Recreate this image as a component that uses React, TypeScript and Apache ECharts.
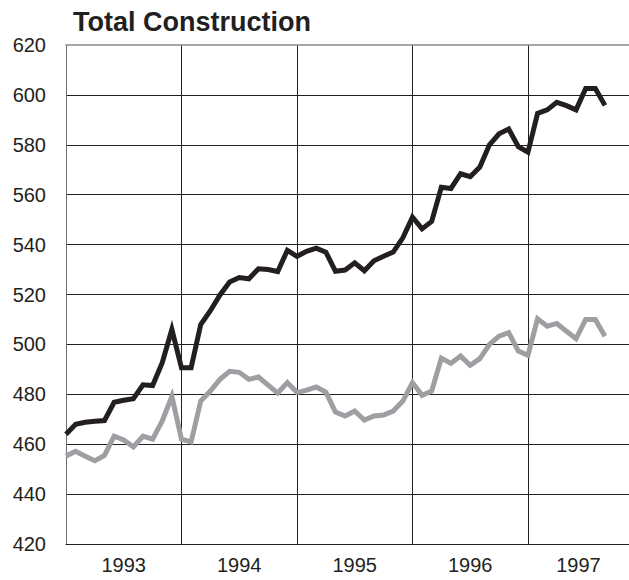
import React, { useEffect, useRef } from 'react';
import * as echarts from 'echarts';

const TITLE = 'Total Construction';
const YEAR_LABELS = ['1993', '1994', '1995', '1996', '1997'];
const MONTHS_PER_YEAR = 12;
const X_MAX = 58.5; // months after Jan 1993 visible on the axis
const Y_MIN = 420;
const Y_MAX = 620;
const Y_STEP = 20;

// Monthly values, Jan 1993 .. Sep 1997
const TOTAL_SERIES = [
  464, 468, 468.8, 469.2, 469.5, 476.8, 477.6, 478.2, 483.8, 483.5, 492.7, 506,
  490.6, 490.6, 508, 513.5, 519.8, 525, 526.8, 526.3, 530.3, 530, 529.2, 537.7,
  535.3, 537.3, 538.6, 537, 529.3, 529.8, 532.7, 529.5, 533.5, 535.3, 537, 542.7,
  551, 546.3, 549.3, 563, 562.5, 568.4, 567.2, 571.1, 580, 584.4, 586.3, 579.2,
  577, 592.6, 594, 597, 595.7, 594, 602.6, 602.6, 595.8,
];
const SECOND_SERIES = [
  455.3, 457.2, 455.2, 453.4, 455.5, 463.2, 461.7, 458.9, 463.2, 462, 469.3, 479.2,
  462, 460.9, 477.3, 481.3, 486, 489.2, 488.8, 486, 486.9, 483.7, 480.5, 484.7,
  480.7, 481.7, 482.9, 480.9, 472.9, 471.3, 473.3, 469.7, 471.3, 471.7, 473.3, 477.3,
  484.7, 479.6, 481.3, 494.5, 492.4, 495.3, 491.6, 494.3, 500, 503.3, 504.7, 497.3,
  495.6, 510.3, 507.3, 508.4, 505.3, 502.3, 510, 510, 503.3,
];

const FONT = '"Liberation Sans", Arial, Helvetica, sans-serif';
const TEXT_COLOR = '#231f20';

export default function App() {
  const ref = useRef<HTMLDivElement>(null);

  useEffect(() => {
    document.body.style.margin = '0';
    if (!ref.current) return;
    const chart = echarts.init(ref.current, undefined, { renderer: 'svg' });

    const labelPositions = YEAR_LABELS.map((_, i) => {
      const start = i * MONTHS_PER_YEAR;
      const end = Math.min(start + MONTHS_PER_YEAR, X_MAX);
      return (start + end) / 2;
    });

    const toPairs = (arr: number[]) => arr.map((v, i) => [i, v]);

    chart.setOption({
      animation: false,
      backgroundColor: '#ffffff',
      title: {
        text: TITLE,
        left: 73,
        top: 8,
        padding: 0,
        textStyle: { fontFamily: FONT, fontSize: 27, fontWeight: 'bold', color: TEXT_COLOR },
      },
      grid: { left: 66, right: 0, top: 45, bottom: 36, containLabel: false },
      xAxis: [
        {
          type: 'value',
          min: 0,
          max: X_MAX,
          interval: MONTHS_PER_YEAR,
          position: 'bottom',
          axisLine: { show: true, onZero: false, lineStyle: { color: TEXT_COLOR, width: 1 } },
          axisTick: { show: false },
          splitLine: {
            show: true,
            showMinLine: false,
            showMaxLine: false,
            lineStyle: { color: TEXT_COLOR, width: 1 },
          },
          axisLabel: {
            customValues: labelPositions,
            formatter: (v: number) => YEAR_LABELS[Math.floor(v / MONTHS_PER_YEAR)] ?? '',
            fontFamily: FONT,
            fontSize: 20,
            color: TEXT_COLOR,
            margin: 11,
          },
        },
        {
          type: 'value',
          min: 0,
          max: X_MAX,
          position: 'top',
          axisLine: { show: true, onZero: false, lineStyle: { color: '#8a8a8a', width: 1.5 } },
          axisTick: { show: false },
          axisLabel: { show: false },
          splitLine: { show: false },
        },
      ],
      yAxis: {
        type: 'value',
        min: Y_MIN,
        max: Y_MAX,
        interval: Y_STEP,
        axisLine: { show: true, onZero: false, lineStyle: { color: '#6d6e70', width: 1 } },
        axisTick: { show: false },
        splitLine: {
          show: true,
          showMinLine: false,
          showMaxLine: false,
          lineStyle: { color: TEXT_COLOR, width: 1 },
        },
        axisLabel: { fontFamily: FONT, fontSize: 20, color: TEXT_COLOR, margin: 20 },
      },
      series: [
        {
          type: 'line',
          data: toPairs(SECOND_SERIES),
          xAxisIndex: 0,
          symbol: 'none',
          lineStyle: { color: '#9d9fa2', width: 5, join: 'miter' },
        },
        {
          type: 'line',
          data: toPairs(TOTAL_SERIES),
          xAxisIndex: 0,
          symbol: 'none',
          lineStyle: { color: TEXT_COLOR, width: 5, join: 'miter' },
        },
      ],
    });

    return () => chart.dispose();
  }, []);

  return <div ref={ref} style={{ width: 629, height: 580 }} />;
}
